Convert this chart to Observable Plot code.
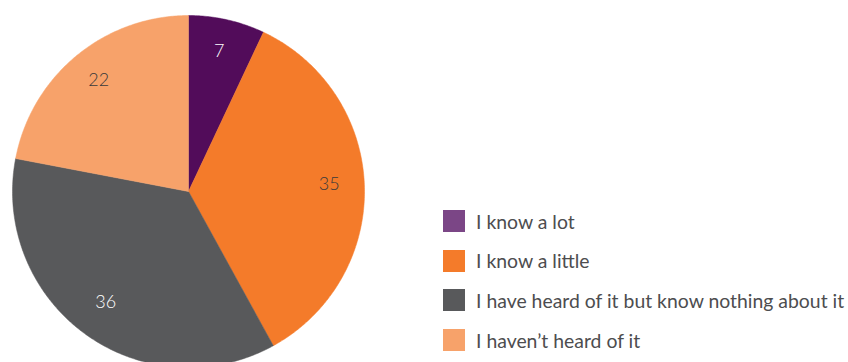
<!DOCTYPE html>
<html>
<head>
<meta charset="utf-8">
<script src="https://cdn.jsdelivr.net/npm/d3@7"></script>
<script src="https://cdn.jsdelivr.net/npm/@observablehq/plot@0.6"></script>
<style>
  html, body { margin: 0; padding: 0; background: #fff; overflow: hidden; }
  #wrap { position: relative; width: 848px; height: 362px; }
  #legend { position: absolute; left: 443px; top: 210px; font-family: Lato, "Open Sans", sans-serif; font-size: 19.4px; color: #4d4d4f; }
  .row { display: flex; align-items: center; height: 22px; margin-bottom: 17.7px; }
  .sw { width: 22px; height: 22px; margin-right: 11px; flex: none; }
</style>
</head>
<body>
<div id="wrap"><div id="chart"></div><div id="legend"></div></div>
<script>
const categories = ["I know a lot", "I know a little", "I have heard of it but know nothing about it", "I haven\u2019t heard of it"];
const values = [7, 35, 36, 22];
const sliceColors = ["#520c5a", "#f47b2a", "#58595b", "#f7a26a"];
const legendColors = ["#7b4686", "#f47b2a", "#58595b", "#f7a26a"];
const labelColors = ["#ffffff", "#3a3a3a", "#ffffff", "#3a3a3a"];

const arcs = d3.pie().sort(null).value(d => d.value)(categories.map((c, i) => ({cat: c, value: values[i]})));

// polygon points per slice in unit-circle data space (angle 0 at top, clockwise)
const pts = [];
arcs.forEach(a => {
  const n = Math.max(2, Math.ceil((a.endAngle - a.startAngle) / 0.01));
  pts.push({cat: a.data.cat, x: 0, y: 0});
  for (let k = 0; k <= n; k++) {
    const t = a.startAngle + (a.endAngle - a.startAngle) * k / n;
    pts.push({cat: a.data.cat, x: Math.sin(t), y: Math.cos(t)});
  }
  pts.push({cat: a.data.cat, x: 0, y: 0});
});
const labels = arcs.map((a, i) => {
  const m = (a.startAngle + a.endAngle) / 2;
  return {cat: a.data.cat, v: String(a.data.value), x: 0.8 * Math.sin(m), y: 0.8 * Math.cos(m), c: labelColors[i]};
});

const chart = Plot.plot({
  width: 848,
  height: 362,
  margin: 0,
  x: {domain: [-1, 1], range: [12, 364], axis: null},
  y: {domain: [-1, 1], range: [367, 15], axis: null},
  color: {domain: categories, range: sliceColors},
  style: {background: "#fff", overflow: "hidden"},
  marks: [
    Plot.line(pts, {x: "x", y: "y", z: "cat", fill: "cat", stroke: "cat", strokeWidth: 0.5, curve: "linear"}),
    Plot.text(labels, {x: "x", y: "y", dy: -3, text: "v", fill: "c", fontSize: 18, fontWeight: 300, fontFamily: "Lato, 'Open Sans', sans-serif"})
  ]
});
document.getElementById("chart").appendChild(chart);

const lg = document.getElementById("legend");
categories.forEach((c, i) => {
  const r = document.createElement("div");
  r.className = "row";
  const s = document.createElement("div");
  s.className = "sw";
  s.style.background = legendColors[i];
  const t = document.createElement("span");
  t.textContent = c;
  r.appendChild(s); r.appendChild(t);
  lg.appendChild(r);
});
</script>
</body>
</html>
